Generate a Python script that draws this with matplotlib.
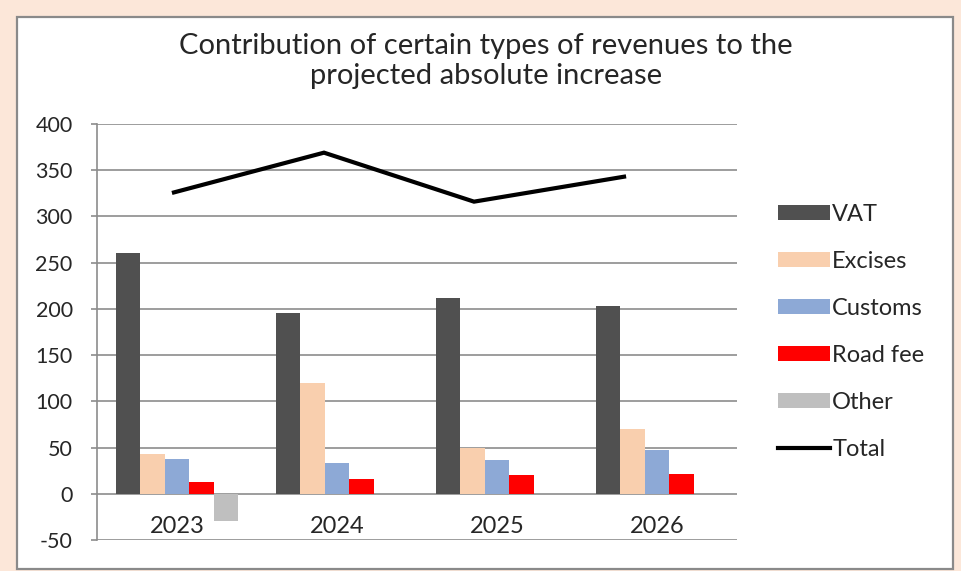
import matplotlib
matplotlib.use("Agg")
import matplotlib.pyplot as plt
from matplotlib.patches import Rectangle, Patch
from matplotlib.lines import Line2D
import numpy as np

plt.rcParams['font.family'] = ['Lato', 'DejaVu Sans']
plt.rcParams['axes.unicode_minus'] = False

years = ['2023', '2024', '2025', '2026']
series_names = ['VAT', 'Excises', 'Customs', 'Road fee', 'Other']
vat = [260, 196, 212, 203]
excises = [43, 120, 49, 70]
customs = [38, 33, 36, 47]
road_fee = [13, 16, 20, 21]
other = [-29, 0, 0, 0]
total = [326, 369, 316, 343]

colors = ['#505050', '#F9CFAE', '#8DA9D6', '#FF0000', '#BFBFBF']
grid_col = '#8C8C8C'
text_col = '#262626'
fs = 17

fig = plt.figure(figsize=(9.62, 5.71), dpi=100, facecolor='#FCE7D9')

# white chart panel sitting on the peach background
fig.patches.append(Rectangle((17 / 962, 2 / 571), 936 / 962, 552 / 571,
                             transform=fig.transFigure, facecolor='white',
                             edgecolor='#8A8A8A', linewidth=1.6, zorder=-5))

ax = fig.add_axes([97 / 962, 31 / 571, 640 / 962, 416 / 571])
ax.set_facecolor('none')

x = np.arange(len(years))
bw = 0.1525
for j, (name, vals) in enumerate(zip(series_names, [vat, excises, customs, road_fee, other])):
    ax.bar(x + (j - 2) * bw, vals, width=bw, color=colors[j], zorder=3, label=name)

ax.set_xlim(-0.5, 3.5)
ax.set_ylim(-50, 400)
ax.set_yticks(np.arange(-50, 401, 50))
ax.yaxis.grid(True, color=grid_col, linewidth=1.2, zorder=1)
ax.set_axisbelow(True)
for s in ['top', 'right', 'bottom']:
    ax.spines[s].set_visible(False)
ax.spines['left'].set_color(grid_col)
ax.spines['left'].set_linewidth(1.2)
ax.tick_params(axis='y', length=4, width=1.2, color=grid_col, labelsize=15.5,
               labelcolor=text_col, pad=13.5)
ax.set_xticks([])

# category labels hang below the zero line
for xi, yr in zip(x, years):
    ax.text(xi, -35, yr, ha='center', va='center', fontsize=fs, color=text_col)

# total line lives on its own horizontal category axis
ax2 = ax.twiny()
ax2.set_xlim(-0.513, 3.753)
ax2.set_ylim(-50, 400)
ax2.plot(np.arange(len(total)), total, color='black', linewidth=3, zorder=4,
         solid_joinstyle='miter')
ax2.axis('off')

fig.text(486 / 962, 1 - 46 / 571, 'Contribution of certain types of revenues to the',
         ha='center', va='center', fontsize=21, color=text_col)
fig.text(486 / 962, 1 - 76 / 571, 'projected absolute increase',
         ha='center', va='center', fontsize=21, color=text_col)

handles = [Patch(facecolor=c, edgecolor='none') for c in colors]
handles.append(Line2D([0], [0], color='black', linewidth=3))
labels = series_names + ['Total']
fig.legend(handles, labels, loc='upper left', bbox_to_anchor=(778 / 962, 1 - 204 / 571),
           frameon=False, fontsize=fs, handlelength=2.2, handleheight=0.6,
           handletextpad=0.1, labelspacing=1.1, borderpad=0, borderaxespad=0,
           labelcolor=text_col)

fig.savefig('out.png', dpi=100, facecolor=fig.get_facecolor())
